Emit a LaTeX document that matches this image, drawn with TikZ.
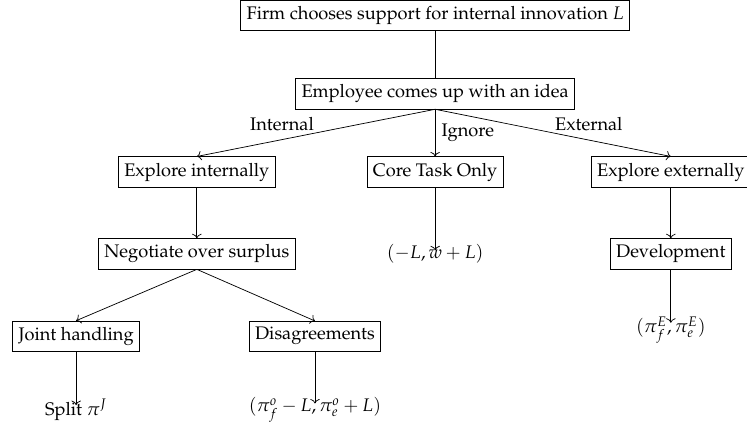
\documentclass[tikz,border=0pt]{standalone}
\usepackage[T1]{fontenc}
\usepackage{mathpazo}
\usepackage{amsmath}
\usetikzlibrary{positioning, arrows.meta}

\begin{document}
\begin{tikzpicture}[
  stage/.style={draw, rectangle, inner sep=3.3pt},
  payoff/.style={inner sep=0pt},
  toend/.style={->, shorten >=-3.5pt}
]
\useasboundingbox (0,0) rectangle (14.42,8.30);

% Decision stages
\node[stage] (firm)     at (8.40,8.01) {Firm chooses support for internal innovation $L$};
\node[stage] (employee) at (8.40,6.49) {Employee comes up with an idea};

\node[stage] (exploreInt) at (3.80,4.98)  {Explore internally};
\node[stage] (coreTask)   at (8.40,4.98)  {Core Task Only};
\node[stage] (exploreExt) at (12.95,4.98) {Explore externally};

\node[stage] (negotiate)   at (3.80,3.40)  {Negotiate over surplus};
\node[stage] (development) at (12.95,3.40) {Development};

\node[stage] (joint)    at (1.47,1.81) {Joint handling};
\node[stage] (disagree) at (6.08,1.81) {Disagreements};

% Payoffs
\node[payoff] (payCore)     at (8.40,3.40)  {$(-L,w+L)$};
\node[payoff] (payExt)      at (12.95,1.93) {$(\pi_f^E,\pi_e^E)$};
\node[payoff] (paySplit)    at (1.47,0.39)  {Split $\pi^J$};
\node[payoff] (payDisagree) at (6.08,0.39)  {$(\pi_f^o-L,\pi_e^o+L)$};

% Connectors
\draw (firm) -- (employee);
\draw[->] (employee.south) -- node[above left, inner sep=1pt] {Internal} (exploreInt.north);
\draw[->] (employee.south) -- node[right] {Ignore} (coreTask.north);
\draw[->] (employee.south) -- node[above right, inner sep=1pt] {External} (exploreExt.north);

\draw[->] (exploreInt) -- (negotiate);
\draw[->] (exploreExt) -- (development);
\draw[->] (negotiate.south) -- (joint.north);
\draw[->] (negotiate.south) -- (disagree.north);

\draw[toend] (coreTask.south) -- (payCore.north);
\draw[toend] (development.south) -- (payExt.north);
\draw[toend] (joint.south) -- (paySplit.north);
\draw[toend] (disagree.south) -- (payDisagree.north);
\end{tikzpicture}
\end{document}
